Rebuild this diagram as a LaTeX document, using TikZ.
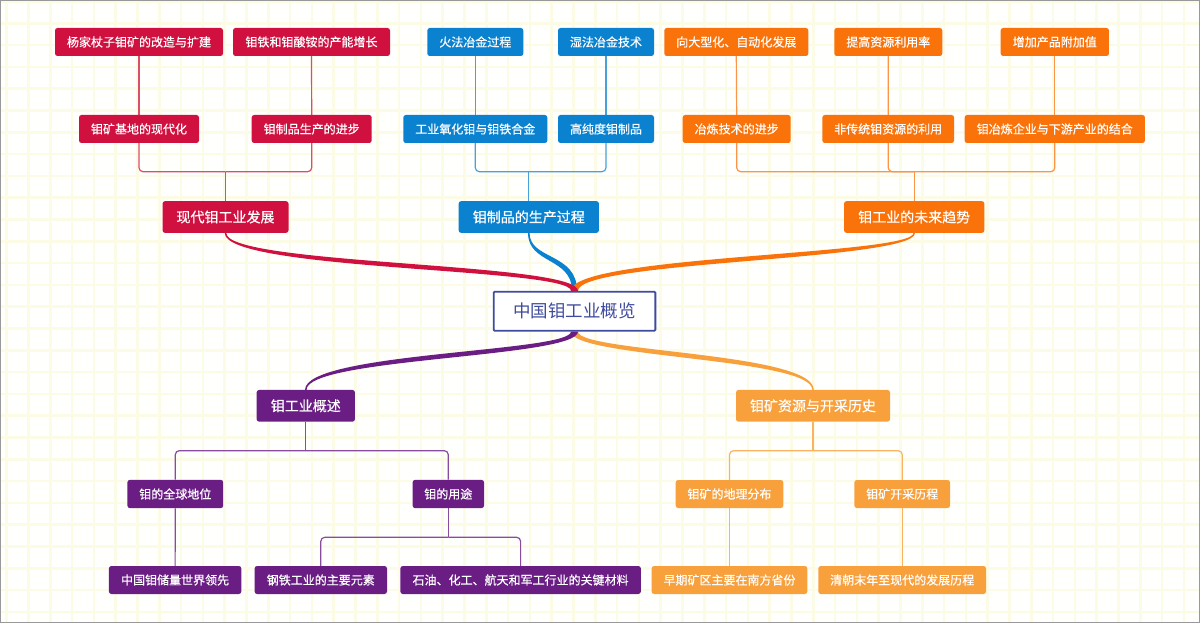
\documentclass[tikz,border=0pt]{standalone}
\usepackage{fontspec}
\setmainfont{Noto Sans CJK SC}
\newfontfamily\boxfont{Noto Sans CJK SC}[FakeBold=0.5]
\usetikzlibrary{calc}
\definecolor{cR}{HTML}{D0103F}
\definecolor{cB}{HTML}{0B82CF}
\definecolor{cO}{HTML}{FA720A}
\definecolor{cP}{HTML}{6A1E84}
\definecolor{cL}{HTML}{F8A03C}
\definecolor{cN}{HTML}{3F4B9D}
\definecolor{gridc}{HTML}{FCFCE6}
\definecolor{bgc}{HTML}{FFFFFD}
\pgfdeclarelayer{gridlayer}
\pgfdeclarelayer{linklayer}
\pgfsetlayers{gridlayer,linklayer,main}
\tikzset{
  box/.style={rectangle, rounded corners=2.5pt, inner sep=0pt, text=white,
    font=\boxfont\fontsize{12}{14}\selectfont, minimum height=28pt},
  lvlone/.style={minimum height=31.7pt, font=\boxfont\fontsize{14}{16}\selectfont},
  boxR/.style={box, fill=cR},
  boxB/.style={box, fill=cB},
  boxO/.style={box, fill=cO},
  boxP/.style={box, fill=cP},
  boxL/.style={box, fill=cL},
  rootbox/.style={rectangle, draw=cN, line width=1.8pt, fill=white, rounded corners=1pt,
    minimum width=161.7pt, minimum height=39pt, text=cN, inner sep=0pt,
    font=\fontsize{17.5}{20}\selectfont},
  link/.style={line width=1.2pt, rounded corners=4pt},
  linkR/.style={link, draw=cR!75!white},
  linkB/.style={link, draw=cB!75!white},
  linkO/.style={link, draw=cO!75!white},
  linkP/.style={link, draw=cP!80!white},
  linkL/.style={link, draw=cL!80!white},
  gridline/.style={draw=gridc, line width=2.6pt},
}
\begin{document}
\begin{tikzpicture}[x=1pt, y=-1pt]
\useasboundingbox (0,0) rectangle (1200,623);
\begin{pgfonlayer}{gridlayer}
  \fill[bgc] (0,0) rectangle (1200,623);
  \foreach \i in {0,...,55} \draw[gridline] ({6.7+\i*21.8},0) -- ++(0,623);
  \foreach \j in {0,...,28} \draw[gridline] (0,{1.5+\j*21.8}) -- ++(1200,0);
  \draw[gray!80, line width=1pt] (0.5,0.5) rectangle (1199.5,622.5);
\end{pgfonlayer}

% root
\node[rootbox] (root) at (574.5,311.2) {中国钼工业概览};

% red group
\node[boxR, minimum width=168pt] (a1) at (139,42) {杨家杖子钼矿的改造与扩建};
\node[boxR, minimum width=157pt] (b1) at (311.5,42) {钼铁和钼酸铵的产能增长};
\node[boxR, minimum width=120pt] (a2) at (139,129) {钼矿基地的现代化};
\node[boxR, minimum width=120pt] (b2) at (311.7,129) {钼制品生产的进步};
\node[boxR, lvlone, minimum width=126pt] (r0) at (225.5,217) {现代钼工业发展};
\coordinate (rj) at (225.5,171.7);

% blue group
\node[boxB, minimum width=96pt] (c1) at (475.3,42) {火法冶金过程};
\node[boxB, minimum width=96pt] (d1) at (606,42) {湿法冶金技术};
\node[boxB, minimum width=144pt] (c2) at (475.3,129) {工业氧化钼与钼铁合金};
\node[boxB, minimum width=96pt] (d2) at (606,129) {高纯度钼制品};
\node[boxB, lvlone, minimum width=140.3pt] (b0) at (528.8,217) {钼制品的生产过程};
\coordinate (bj) at (528.8,171.7);

% orange group
\node[boxO, minimum width=144pt] (e1) at (736.3,42) {向大型化、自动化发展};
\node[boxO, minimum width=108pt] (f1) at (888.3,42) {提高资源利用率};
\node[boxO, minimum width=108.3pt] (g1) at (1054.8,42) {增加产品附加值};
\node[boxO, minimum width=108pt] (e2) at (736.7,129) {冶炼技术的进步};
\node[boxO, minimum width=131.7pt] (f2) at (888.2,129) {非传统钼资源的利用};
\node[boxO, minimum width=180.3pt] (g2) at (1054.8,129) {钼冶炼企业与下游产业的结合};
\node[boxO, lvlone, minimum width=140.3pt] (o0) at (914.2,217) {钼工业的未来趋势};
\coordinate (oj) at (914.2,171.7);

% purple group
\node[boxP, lvlone, minimum width=98.3pt] (p0) at (305.8,405.8) {钼工业概述};
\coordinate (pj) at (305.8,450.7);
\node[boxP, minimum width=95.8pt, minimum height=28.3pt] (p1) at (175.3,494) {钼的全球地位};
\node[boxP, minimum width=71.4pt, minimum height=28.3pt] (p2) at (448.3,494) {钼的用途};
\node[boxP, minimum width=132.4pt] (p11) at (175.1,580) {中国钼储量世界领先};
\coordinate (qj) at (448.3,537.3);
\node[boxP, minimum width=132.4pt] (p21) at (320.8,580) {钢铁工业的主要元素};
\node[boxP, minimum width=240.5pt] (p22) at (520.6,580) {石油、化工、航天和军工行业的关键材料};

% light orange group
\node[boxL, lvlone, minimum width=154pt] (l0) at (813,405.8) {钼矿资源与开采历史};
\coordinate (lj) at (813,450.7);
\node[boxL, minimum width=107.6pt] (l1) at (729.5,494) {钼矿的地理分布};
\node[boxL, minimum width=95.7pt] (l2) at (902.2,494) {钼矿开采历程};
\node[boxL, minimum width=155.6pt] (l11) at (729.5,580) {早期矿区主要在南方省份};
\node[boxL, minimum width=167.7pt] (l21) at (902.2,580) {清朝末年至现代的发展历程};

\begin{pgfonlayer}{linklayer}
  % thin links
  \draw[linkR] (a1.south) -- (a2.north);
  \draw[linkR] (b1.south) -- (b2.north);
  \draw[linkR] (a2.south) |- (rj);
  \draw[linkR] (b2.south) |- (rj);
  \draw[linkR] (rj) -- (r0.north);

  \draw[linkB] (c1.south) -- (c2.north);
  \draw[linkB] (d1.south) -- (d2.north);
  \draw[linkB] (c2.south) |- (bj);
  \draw[linkB] (d2.south) |- (bj);
  \draw[linkB] (bj) -- (b0.north);

  \draw[linkO] (e1.south) -- (e2.north);
  \draw[linkO] (f1.south) -- (f2.north);
  \draw[linkO] (g1.south) -- (g2.north);
  \draw[linkO] (e2.south) |- (oj);
  \draw[linkO] (f2.south) |- (oj);
  \draw[linkO] (g2.south) |- (oj);
  \draw[linkO] (oj) -- (o0.north);

  \draw[linkP] (p0.south) -- (pj);
  \draw[linkP] (pj) -| (p1.north);
  \draw[linkP] (pj) -| (p2.north);
  \draw[linkP] (p1.south) -- (p11.north);
  \draw[linkP] (p2.south) -- (qj);
  \draw[linkP] (qj) -| (p21.north);
  \draw[linkP] (qj) -| (p22.north);

  \draw[linkL] (l0.south) -- (lj);
  \draw[linkL] (lj) -| (l1.north);
  \draw[linkL] (lj) -| (l2.north);
  \draw[linkL] (l1.south) -- (l11.north);
  \draw[linkL] (l2.south) -- (l21.north);

  % tapered main branches
  \fill[cB] ($(b0.south)+(0.75,0)$) .. controls (529.55,259.8) and (577,252.8) .. ($(root.north)+(2.5,0)$)
     -- ($(root.north)+(-2.5,0)$) .. controls (572,257.2) and (528.05,264.2) .. ($(b0.south)+(-0.75,0)$) -- cycle;
  \fill[cO] ($(o0.south)+(-0.75,0)$) .. controls (913.45,255.2) and (571,255.2) .. ($(root.north)+(-3.5,0)$)
     -- ($(root.north)+(3.5,0)$) .. controls (578,260.8) and (914.95,260.8) .. ($(o0.south)+(0.75,0)$) -- cycle;
  \fill[cR] ($(r0.south)+(0.75,0)$) .. controls (226.25,265.2) and (578,262.2) .. ($(root.north)+(3.5,0)$)
     -- ($(root.north)+(-3.5,0)$) .. controls (571,267.8) and (224.75,270.8) .. ($(r0.south)+(-0.75,0)$) -- cycle;
  \fill[cL] ($(root.south)+(3.5,0)$) .. controls (578,352.2) and (813.75,352.2) .. ($(l0.north)+(0.75,0)$)
     -- ($(l0.north)+(-0.75,0)$) .. controls (812.25,357.8) and (571,357.8) .. ($(root.south)+(-3.5,0)$) -- cycle;
  \fill[cP] ($(root.south)+(-3.5,0)$) .. controls (571,352.2) and (305.05,352.2) .. ($(p0.north)+(-0.75,0)$)
     -- ($(p0.north)+(0.75,0)$) .. controls (306.55,357.8) and (578,357.8) .. ($(root.south)+(3.5,0)$) -- cycle;
\end{pgfonlayer}
\end{tikzpicture}
\end{document}
